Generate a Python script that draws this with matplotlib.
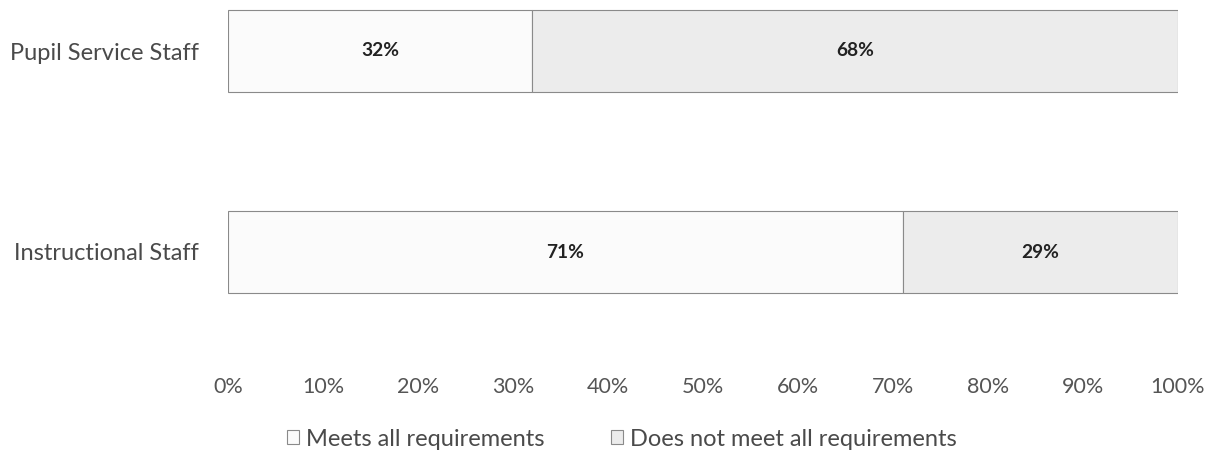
import numpy as np
import matplotlib.pyplot as plt

categories = ["Instructional Staff", "Pupil Service Staff"]
meets = [71, 32]
not_meets = [29, 68]
series_names = ["Meets all requirements", "Does not meet all requirements"]
xticks = [0, 10, 20, 30, 40, 50, 60, 70, 80, 90, 100]

plt.rcParams['font.family'] = ['Lato', 'DejaVu Sans']

W, H = 1211, 454
fig = plt.figure(figsize=(W / 100, H / 100), dpi=100)
# axes in pixel terms: x 228..1178, y 5..370 (from top)
ax = fig.add_axes([228 / W, 1 - 370 / H, 950 / W, 365 / H])

y = np.arange(len(categories))
h = 0.41
b1 = ax.barh(y, meets, height=h, color="#fbfbfb", edgecolor="#8a8a8a",
             linewidth=0.8, label=series_names[0])
b2 = ax.barh(y, not_meets, left=meets, height=h, color="#ececec",
             edgecolor="#8a8a8a", linewidth=0.8, label=series_names[1])

for bars, vals, lefts in [(b1, meets, [0, 0]), (b2, not_meets, meets)]:
    for yy, v, l in zip(y, vals, lefts):
        ax.text(l + v / 2, yy, f"{v}%", ha="center", va="center",
                fontsize=13.8, fontweight="bold", color="#222222")

px = 1 / 201
ax.set_ylim(0 - (370 - 252) * px, 1 + (51 - 5) * px)
ax.set_xlim(0, 100)
ax.set_xticks(xticks)
ax.set_xticklabels([f"{t}%" for t in xticks], fontsize=15.5, color="#555555")
ax.tick_params(axis="x", length=0, pad=5)
ax.set_yticks(y)
ax.set_yticklabels(categories, fontsize=17, color="#4a4a4a")
ax.tick_params(axis="y", length=0, pad=21)
for s in ax.spines.values():
    s.set_visible(False)

fig.legend(handles=[b1, b2], labels=series_names, loc="center",
           bbox_to_anchor=(622 / W, 1 - 439 / H), ncol=2, frameon=False,
           fontsize=17, handlelength=0.5, handleheight=0.5,
           handletextpad=0.3, columnspacing=2.8, labelcolor="#4a4a4a")

fig.savefig("out.png", dpi=100)
